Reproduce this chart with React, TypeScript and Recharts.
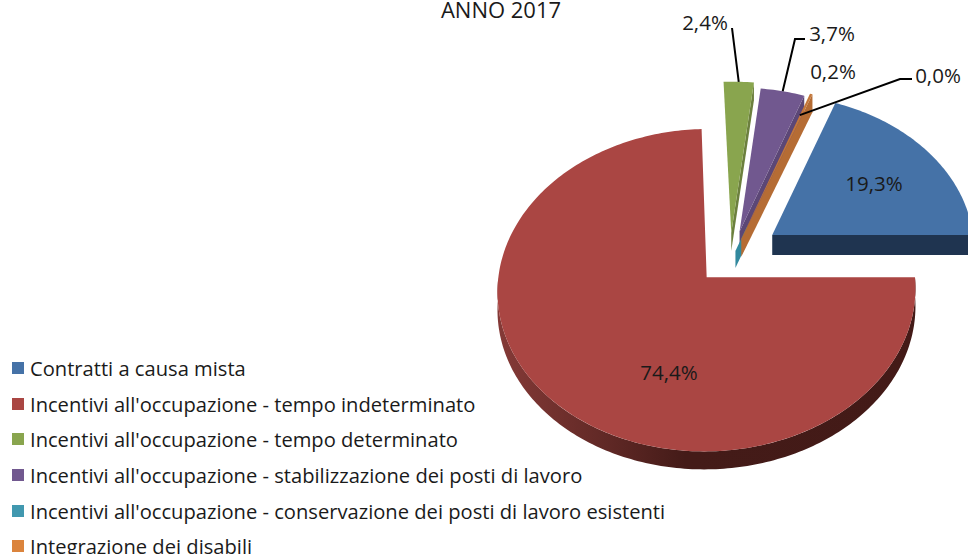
import React from 'react';
import { PieChart, Pie, Legend } from 'recharts';

const CATEGORIES = [
  'Contratti a causa mista',
  "Incentivi all'occupazione - tempo indeterminato",
  "Incentivi all'occupazione - tempo determinato",
  "Incentivi all'occupazione - stabilizzazione dei posti di lavoro",
  "Incentivi all'occupazione - conservazione dei posti di lavoro esistenti",
  'Integrazione dei disabili',
];
const VALUES = [19.3, 74.4, 2.4, 3.7, 0.0, 0.2];

const COLORS = ['#4572a7', '#aa4643', '#89a54e', '#71588f', '#4198af', '#db843d'];
const TOP_COLORS = ['#4572a7', '#aa4643', '#89a54e', '#71588f', '#4198af', '#c4773a'];
const WALL_COLORS = ['#1f3450', '#431a17', '#6c803e', '#5c4776', '#32899e', '#b56c34'];
// explosion of each slice, in pie radii
const EXPLODE = [0.213, 0.2, 0.16, 0.14, 0.02, 0.13];
// per slice corrections so the fake perspective lands where the picture has it
const RADIUS_SCALE = [0.97, 0.985, 1.06, 1, 1, 1.07];
const NUDGE = [[0, 0], [0, 0], [-6, 4], [-3, -1], [-2, 0], [-4, 4]];
// how far the side wall runs along the radius, and how tall it is
const WALL_LENGTH = [1, 1, 1, 1, 0.17, 1];
const DEPTHS = [20, 18, 18, 18, 17, 18];

const FONT = '"Open Sans", sans-serif';
const SQUASH = 0.76;
const PERSPECTIVE = 0.081;

const chartData = CATEGORIES.map((name, i) => ({ name, value: VALUES[i], fill: COLORS[i] }));

const rad = (a: number) => (a * Math.PI) / 180;

// disc coordinates (radius = 1, Y pointing away) to the screen
const project = (cx: number, cy: number, R: number, X: number, Y: number) => {
  const w = 1 + PERSPECTIVE * Y;
  return [cx + (R * X) / w, cy - (R * SQUASH * Y) / w];
};

const slicePoint = (p: any, i: number, mid: number, angle: number, r: number) => {
  const rr = r * RADIUS_SCALE[i];
  const X = EXPLODE[i] * Math.cos(rad(mid)) + rr * Math.cos(rad(angle));
  const Y = EXPLODE[i] * Math.sin(rad(mid)) + rr * Math.sin(rad(angle));
  const q = project(p.cx, p.cy, p.outerRadius, X, Y);
  return [q[0] + NUDGE[i][0], q[1] + NUDGE[i][1]];
};

const toPath = (pts: number[][]) =>
  'M' + pts.map((q) => `${q[0].toFixed(2)},${q[1].toFixed(2)}`).join('L') + 'Z';

const Slice3D = (p: any) => {
  const i = CATEGORIES.indexOf(p.name);
  const { startAngle, endAngle } = p;
  const mid = (startAngle + endAngle) / 2;
  const apex = slicePoint(p, i, mid, 0, 0);
  const depth = DEPTHS[i];

  const arc: number[][] = [];
  const steps = Math.max(1, Math.ceil(Math.abs(startAngle - endAngle)));
  for (let s = 0; s <= steps; s++) {
    const a = startAngle + ((endAngle - startAngle) * s) / steps;
    arc.push(slicePoint(p, i, mid, a, 1));
  }

  // side wall on the clockwise edge
  const edge = slicePoint(p, i, mid, endAngle, WALL_LENGTH[i]);
  const wall =
    i === 1
      ? null
      : [apex, edge, [edge[0], edge[1] + depth], [apex[0], apex[1] + depth]];

  // front rim, only the half of the circle facing the viewer
  const rimPts: number[][] = [];
  for (let a = Math.min(startAngle, 0); a >= Math.max(endAngle, -180); a -= 1) {
    if (i === 1) rimPts.push(slicePoint(p, i, mid, a, 1));
  }
  const rim = rimPts.length
    ? [...rimPts, ...rimPts.slice().reverse().map((q) => [q[0], q[1] + depth])]
    : null;

  return (
    <g>
      {wall && <path d={toPath(wall)} fill={WALL_COLORS[i]} />}
      {rim && (
        <>
          <defs>
            <linearGradient id="rimRed" gradientUnits="userSpaceOnUse" x1="497" x2="915" y1="0" y2="0">
              <stop offset="0" stopColor="#853a37" />
              <stop offset="0.27" stopColor="#5f2825" />
              <stop offset="0.45" stopColor="#441b18" />
              <stop offset="1" stopColor="#431a17" />
            </linearGradient>
          </defs>
          <path d={toPath(rim)} fill="url(#rimRed)" />
        </>
      )}
      {i !== 4 && <path d={toPath([apex, ...arc])} fill={TOP_COLORS[i]} />}
    </g>
  );
};

// where each value label sits, and the elbow of its leader line if it has one
const LABEL_LAYOUT = [
  { x: 874, y: 183 },
  { x: 669, y: 372 },
  { x: 705, y: 22, from: [732, 28], radius: 1 },
  { x: 832, y: 33, from: [805, 39], elbow: [795, 39], radius: 1 },
  { x: 938, y: 75, from: [912, 79], elbow: [900, 79], radius: 0.98 },
  { x: 833, y: 71 },
];

const ValueLabel = (p: any) => {
  const i = CATEGORIES.indexOf(p.name);
  const l: any = LABEL_LAYOUT[i];
  let line = null;
  if (l.from) {
    const mid = p.midAngle;
    const end = slicePoint(p, i, mid, mid, l.radius);
    const pts = [l.from, ...(l.elbow ? [l.elbow] : []), end];
    line = (
      <polyline
        points={pts.map((q: number[]) => q.join(',')).join(' ')}
        fill="none"
        stroke="#000"
        strokeWidth={2}
      />
    );
  }
  return (
    <g>
      {line}
      <text x={l.x} y={l.y} textAnchor="middle" dominantBaseline="central" fontFamily={FONT} fontSize={20.5} fill="#1a1a1a">
        {VALUES[i].toFixed(1).replace('.', ',')}%
      </text>
    </g>
  );
};

const LegendList = ({ payload }: any) => (
  <div>
    {(payload || []).map((entry: any) => (
      <div key={entry.value} style={{ height: 35.6, display: 'flex', alignItems: 'center', whiteSpace: 'nowrap' }}>
        <span style={{ width: 12, height: 12, background: entry.color, marginLeft: 12, marginRight: 6, flex: 'none' }} />
        <span style={{ fontFamily: FONT, fontSize: 20.15, color: '#1a1a1a' }}>{entry.value}</span>
      </div>
    ))}
  </div>
);

export default function App() {
  return (
    <div style={{ position: 'absolute', left: 0, top: 0, width: 968, height: 554, overflow: 'hidden', background: '#fff' }}>
      <PieChart width={968} height={554} margin={{ top: 0, right: 0, bottom: 0, left: 0 }}>
        <text x={501} y={9} textAnchor="middle" dominantBaseline="central" fontFamily={FONT} fontSize={22} fill="#1a1a1a">
          ANNO 2017
        </text>
        <Pie
          data={chartData}
          dataKey="value"
          nameKey="name"
          cx={736}
          cy={254}
          innerRadius={0}
          outerRadius={209}
          startAngle={69.48}
          endAngle={-290.52}
          stroke="none"
          shape={Slice3D}
          label={ValueLabel}
          labelLine={false}
          isAnimationActive={false}
        />
        <Legend
          layout="vertical"
          align="center"
          verticalAlign="middle"
          itemSorter={null}
          content={LegendList}
          wrapperStyle={{ position: 'absolute', left: 0, top: 350.5, width: 700, height: 220 }}
        />
      </PieChart>
    </div>
  );
}
